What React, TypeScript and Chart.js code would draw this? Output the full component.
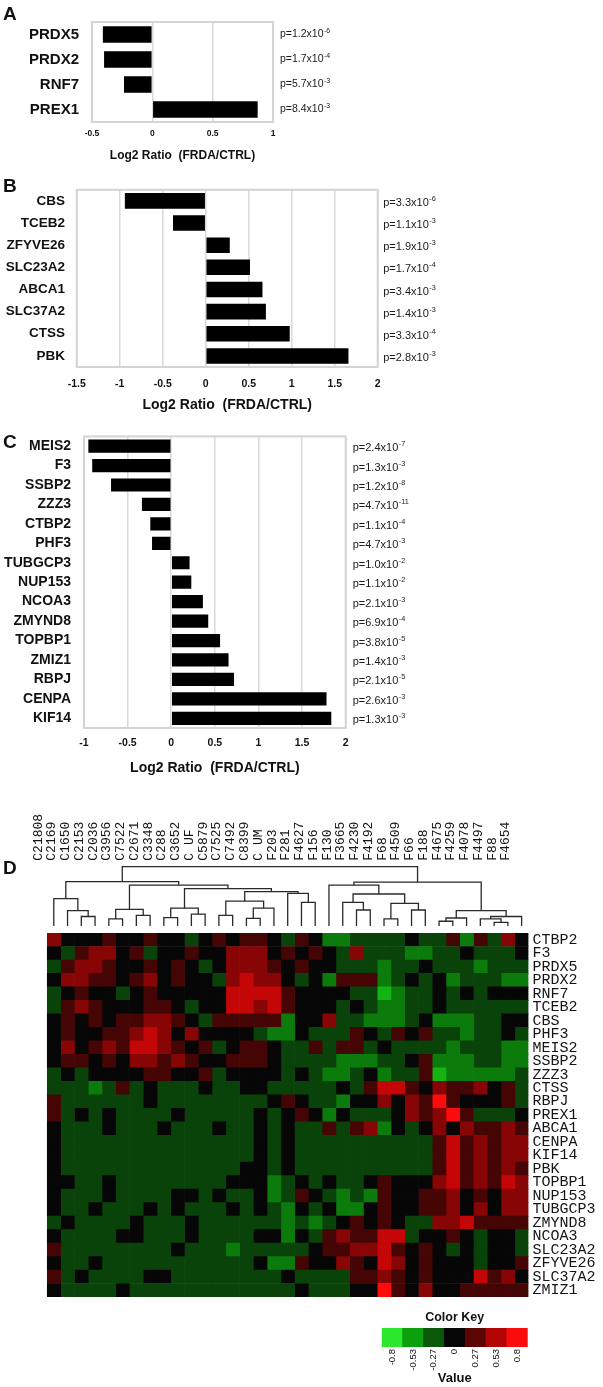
import React, { useEffect, useRef } from "react";
import { Chart, registerables } from "chart.js";
Chart.register(...registerables);

const FONT = '"Liberation Sans", Arial, Helvetica, sans-serif';
const MONO = '"Liberation Mono", "DejaVu Sans Mono", monospace';
Chart.defaults.font.family = FONT;

// ---------- Panel A ----------
const genesA = ["PRDX5", "PRDX2", "RNF7", "PREX1"];
const valuesA = [-0.41, -0.4, -0.235, 0.873];
const pMantA = [1.2, 1.7, 5.7, 8.4];
const pExpA = [-6, -4, -3, -3];

// ---------- Panel B ----------
const genesB = ["CBS", "TCEB2", "ZFYVE26", "SLC23A2", "ABCA1", "SLC37A2", "CTSS", "PBK"];
const valuesB = [-0.94, -0.38, 0.28, 0.515, 0.66, 0.7, 0.977, 1.66];
const pMantB = [3.3, 1.1, 1.9, 1.7, 3.4, 1.4, 3.3, 2.8];
const pExpB = [-6, -3, -3, -4, -3, -3, -4, -3];

// ---------- Panel C ----------
const genesC = ["MEIS2", "F3", "SSBP2", "ZZZ3", "CTBP2", "PHF3", "TUBGCP3", "NUP153", "NCOA3", "ZMYND8", "TOPBP1", "ZMIZ1", "RBPJ", "CENPA", "KIF14"];
const valuesC = [-0.95, -0.906, -0.69, -0.336, -0.24, -0.22, 0.21, 0.23, 0.363, 0.424, 0.56, 0.657, 0.72, 1.78, 1.835];
const pMantC = [2.4, 1.3, 1.2, 4.7, 1.1, 4.7, 1.0, 1.1, 2.1, 6.9, 3.8, 1.4, 2.1, 2.6, 1.3];
const pExpC = [-7, -3, -8, -11, -4, -3, -2, -2, -3, -4, -5, -3, -5, -3, -3];

// ---------- Panel D ----------
const sampleNames = ["C21808", "C2169", "C1650", "C2153", "C2036", "C3956", "C7522", "C2671", "C3348", "C288", "C3652", "C UF", "C5879", "C7525", "C7492", "C8399", "C UM", "F203", "F281", "F4627", "F156", "F130", "F3665", "F4230", "F4192", "F68", "F4509", "F66", "F188", "F4675", "F4259", "F4078", "F4497", "F88", "F4654"];
const heatGenes = ["CTBP2", "F3", "PRDX5", "PRDX2", "RNF7", "TCEB2", "CBS", "PHF3", "MEIS2", "SSBP2", "ZZZ3", "CTSS", "RBPJ", "PREX1", "ABCA1", "CENPA", "KIF14", "PBK", "TOPBP1", "NUP153", "TUBGCP3", "ZMYND8", "NCOA3", "SLC23A2", "ZFYVE26", "SLC37A2", "ZMIZ1"];
// each digit is a colour-key level: 0 = -0.8 ... 4 = 0 ... 8 = +0.8 (step 0.2)
const heatRows = [
  "644454454434545" + "54354223333433525364",
  "435664534454466" + "64545436333223343334",
  "356654454543466" + "65454433323343332333",
  "466554564544367" + "66434255523434233322",
  "345443454444477" + "77544443312334343444",
  "356544455434477" + "67544434322334333333",
  "454545566543555" + "55244633222342223344",
  "454455676464444" + "32243335435453323343",
  "464565776545345" + "54335355343333233322",
  "455454665654455" + "54333322233452223322",
  "343444455445344" + "44343223423351222223",
  "333235343334334" + "43333343577546556453",
  "533333343333333" + "34543324464658544453",
  "534343333433333" + "43454243334656853334",
  "433343334333433" + "43433535624346465565",
  "433333333333333" + "43433333333335756566",
  "433333333333333" + "43433333333335756566",
  "433333333333334" + "43433333333335756565",
  "443343333333344" + "42343433454446756576",
  "433343333443433" + "42354323254455645466",
  "433433343433343" + "43243422454455646466",
  "343333433343333" + "33232345454336675555",
  "433334433343333" + "44243565577344543443",
  "533333333433323" + "33334556675454343443",
  "433433333333333" + "42254465476454443445",
  "534333344333333" + "33433335565454447564",
  "433334333333333" + "33343334485464455555",
];
// dendrogram merges: [nodeA, nodeB, height]; leaves 0..34, merge k creates node 35+k
const merges: [number, number, number][] = [
  [2, 3, 1.6], [1, 35, 2.6], [0, 36, 4.6],
  [4, 5, 1.2], [6, 7, 1.8], [38, 39, 2.8],
  [8, 9, 1.4], [10, 11, 2.0], [41, 42, 3.0],
  [12, 13, 1.8], [14, 15, 1.3], [45, 16, 3.0], [44, 46, 4.2],
  [18, 19, 4.0], [17, 48, 5.5], [47, 49, 5.8],
  [43, 50, 6.3], [40, 51, 6.9], [37, 52, 7.5],
  [22, 23, 2.7], [21, 54, 4.0], [24, 25, 1.2], [26, 27, 2.7], [56, 57, 3.8], [55, 58, 5.4], [20, 59, 6.9],
  [28, 29, 0.8], [61, 30, 1.35], [32, 33, 0.6], [31, 63, 1.2], [64, 34, 1.6], [62, 65, 2.6],
  [60, 66, 7.4], [53, 67, 10],
];
const keyValues = [-0.8, -0.53, -0.27, 0, 0.27, 0.53, 0.8];
const keyLabels = ["-0.8", "-0.53", "-0.27", "0", "0.27", "0.53", "0.8"];
const keyRGB = [[44, 232, 44], [12, 160, 12], [10, 88, 10], [6, 6, 6], [92, 5, 5], [178, 4, 4], [250, 12, 12]];

function colorFor(v: number) {
  const c = Math.max(keyValues[0], Math.min(keyValues[6], v));
  let k = 0;
  while (k < 5 && c > keyValues[k + 1]) k++;
  const t = (c - keyValues[k]) / (keyValues[k + 1] - keyValues[k]);
  const a = keyRGB[k], b = keyRGB[k + 1];
  const m = (i: number) => Math.round(a[i] + (b[i] - a[i]) * t);
  return `rgb(${m(0)},${m(1)},${m(2)})`;
}

const boxPlugin = {
  id: "box",
  beforeDatasetsDraw(chart: any) {
    const { ctx, chartArea: a } = chart;
    ctx.save();
    ctx.strokeStyle = "#d4d4d4";
    ctx.lineWidth = 2;
    ctx.strokeRect(a.left, a.top, a.right - a.left, a.bottom - a.top);
    ctx.restore();
  },
};

function makePPlugin(mant: number[], exps: number[], dx: number, dy: number, size: number) {
  return {
    id: "pvals",
    afterDatasetsDraw(chart: any) {
      const { ctx, chartArea } = chart;
      const ys = chart.scales.y;
      ctx.save();
      ctx.fillStyle = "#1a1a1a";
      ctx.textBaseline = "middle";
      ctx.textAlign = "left";
      mant.forEach((m, i) => {
        const y = ys.getPixelForValue(i) + dy;
        const x = chartArea.right + dx;
        const base = `p=${m.toFixed(1)}x10`;
        ctx.font = `${size}px ${FONT}`;
        ctx.fillText(base, x, y);
        const w = ctx.measureText(base).width;
        ctx.font = `${size * 0.66}px ${FONT}`;
        ctx.fillText(String(exps[i]), x + w + 0.5, y - size * 0.36);
      });
      ctx.restore();
    },
  };
}

function barConfig(genes: string[], values: number[], pm: number[], pe: number[], p: any) {
  return {
    type: "bar",
    data: {
      labels: genes,
      datasets: [{ data: values, backgroundColor: "#000", borderWidth: 0, barPercentage: p.bar, categoryPercentage: 1 }],
    },
    options: {
      indexAxis: "y",
      responsive: false,
      animation: false,
      devicePixelRatio: 1,
      events: [],
      layout: { padding: { left: 0, right: p.right, top: p.top, bottom: 0 } },
      plugins: { legend: { display: false }, tooltip: { enabled: false } },
      scales: {
        y: {
          type: "category",
          grid: { display: false, drawTicks: false },
          border: { display: false },
          afterFit: (s: any) => { s.width = p.yw; },
          ticks: { autoSkip: false, padding: p.ypad, color: "#111", font: { size: p.yfs, weight: "bold" } },
        },
        x: {
          type: "linear",
          min: p.min,
          max: p.max,
          grid: { color: "#d9d9d9", lineWidth: 1.5, drawTicks: false },
          border: { display: false },
          afterFit: (s: any) => { s.height = p.xh; },
          ticks: { stepSize: 0.5, padding: p.xpad, color: "#111", font: { size: p.xfs, weight: "bold" }, callback: (v: any) => String(v) },
          title: { display: true, text: "Log2 Ratio  (FRDA/CTRL)", color: "#111", font: { size: p.tfs, weight: "bold" }, padding: { top: 0, bottom: p.tpb } },
        },
      },
    },
    plugins: [boxPlugin, makePPlugin(pm, pe, p.pdx, p.pdy, p.pfs)],
  };
}

function dendroConfig() {
  const xs: number[] = sampleNames.map((_, i) => i);
  const hs: number[] = sampleNames.map(() => 0);
  const datasets: any[] = [];
  merges.forEach(([a, b, h]) => {
    datasets.push({
      data: [{ x: xs[a], y: hs[a] }, { x: xs[a], y: h }, { x: xs[b], y: h }, { x: xs[b], y: hs[b] }],
      showLine: true,
      borderColor: "#2a2a2a",
      borderWidth: 1.3,
      pointRadius: 0,
      clip: false,
    });
    xs.push((xs[a] + xs[b]) / 2);
    hs.push(h);
  });
  return {
    type: "scatter",
    data: { datasets },
    options: {
      responsive: false,
      animation: false,
      devicePixelRatio: 1,
      events: [],
      layout: { padding: { left: 46.9, right: 74.5, top: 0, bottom: 4 } },
      plugins: { legend: { display: false }, tooltip: { enabled: false } },
      scales: {
        x: {
          type: "linear",
          position: "top",
          min: -0.5,
          max: sampleNames.length - 0.5,
          grid: { display: false, drawTicks: false },
          border: { display: false },
          afterBuildTicks: (s: any) => { s.ticks = sampleNames.map((_, i) => ({ value: i })); },
          afterFit: (s: any) => { s.height = 76.7; },
          ticks: {
            autoSkip: false,
            minRotation: 90,
            maxRotation: 90,
            padding: 6,
            color: "#151515",
            font: { size: 13, family: MONO },
            callback: (v: any) => sampleNames[Math.round(Number(v))],
          },
        },
        y: { type: "linear", min: 0, max: 10, display: false },
      },
    },
  };
}

function heatConfig() {
  const datasets = sampleNames.map((name, j) => ({
    label: name,
    data: heatGenes.map(() => 1),
    backgroundColor: heatRows.map((row) => colorFor((Number(row[j]) - 4) * 0.2)),
    borderWidth: 0,
    barPercentage: 1,
    categoryPercentage: 1,
  }));
  return {
    type: "bar",
    data: { labels: heatGenes, datasets },
    options: {
      indexAxis: "y",
      responsive: false,
      animation: false,
      devicePixelRatio: 1,
      events: [],
      layout: { padding: { left: 46.9, right: 0, top: 6, bottom: 6 } },
      plugins: { legend: { display: false }, tooltip: { enabled: false } },
      scales: {
        x: { type: "linear", stacked: true, min: 0, max: sampleNames.length, display: false },
        y: {
          type: "category",
          stacked: true,
          position: "right",
          grid: { display: false, drawTicks: false },
          border: { display: false },
          afterFit: (s: any) => { s.width = 74.5; },
          ticks: { autoSkip: false, padding: 4, color: "#151515", font: { size: 15, family: MONO } },
        },
      },
    },
  };
}

function keyConfig() {
  return {
    type: "bar",
    data: {
      labels: keyLabels,
      datasets: [{ data: keyValues.map(() => 1), backgroundColor: keyRGB.map((c) => `rgb(${c[0]},${c[1]},${c[2]})`), borderWidth: 0, barPercentage: 1, categoryPercentage: 1 }],
    },
    options: {
      responsive: false,
      animation: false,
      devicePixelRatio: 1,
      events: [],
      layout: { padding: { left: 381.7, right: 75.3, top: 0, bottom: 0 } },
      plugins: {
        legend: { display: false },
        tooltip: { enabled: false },
        title: { display: true, fullSize: false, text: "Color Key", color: "#111", font: { size: 12.5, weight: "bold" }, padding: { top: 5, bottom: 3 } },
      },
      scales: {
        x: {
          type: "category",
          grid: { display: false, drawTicks: false },
          border: { display: false },
          afterFit: (s: any) => { s.height = 40; },
          ticks: { autoSkip: false, minRotation: 90, maxRotation: 90, padding: 2, color: "#111", font: { size: 9.5 } },
          title: { display: true, text: "Value", color: "#111", font: { size: 13, weight: "bold" }, padding: { top: 0, bottom: 1 } },
        },
        y: { type: "linear", min: 0, max: 1, display: false },
      },
    },
  };
}

function ChartCanvas({ top, height, make }: { top: number; height: number; make: () => any }) {
  const ref = useRef<HTMLCanvasElement>(null);
  useEffect(() => {
    const chart = new Chart(ref.current as HTMLCanvasElement, make());
    return () => chart.destroy();
  }, []);
  return <canvas ref={ref} width={603} height={height} style={{ position: "absolute", left: 0, top, width: 603, height }} />;
}

const letterStyle = (top: number): React.CSSProperties => ({
  position: "absolute", left: 3, top, fontFamily: FONT, fontWeight: "bold", fontSize: 19, lineHeight: "19px", color: "#111",
});

export default function App() {
  useEffect(() => {
    document.body.style.margin = "0";
    document.body.style.background = "#fff";
  }, []);
  return (
    <div style={{ position: "relative", width: 603, height: 1387, background: "#fff", overflow: "hidden" }}>
      <ChartCanvas top={0} height={170} make={() => barConfig(genesA, valuesA, pMantA, pExpA, { right: 330, top: 6, yw: 92, ypad: 13, yfs: 15, min: -0.5, max: 1, xh: 48, xpad: 7, xfs: 8.5, tfs: 12, tpb: 7, bar: 0.66, pdx: 7, pdy: 0, pfs: 10.5 })} />
      <ChartCanvas top={170} height={245} make={() => barConfig(genesB, valuesB, pMantB, pExpB, { right: 225.3, top: 10, yw: 76.7, ypad: 11.7, yfs: 13.5, min: -1.5, max: 2, xh: 48, xpad: 10.5, xfs: 10.5, tfs: 14, tpb: 1.6, bar: 0.7, pdx: 5.5, pdy: 2, pfs: 11 })} />
      <ChartCanvas top={415} height={365} make={() => barConfig(genesC, valuesC, pMantC, pExpC, { right: 257.3, top: 21, yw: 84, ypad: 13, yfs: 14, min: -1, max: 2, xh: 52, xpad: 8.7, xfs: 10.5, tfs: 14, tpb: 3.7, bar: 0.68, pdx: 7, pdy: 2, pfs: 11 })} />
      <ChartCanvas top={790} height={140} make={dendroConfig} />
      <ChartCanvas top={920} height={390} make={heatConfig} />
      <ChartCanvas top={1305} height={82} make={keyConfig} />
      <div style={letterStyle(4)}>A</div>
      <div style={letterStyle(176)}>B</div>
      <div style={letterStyle(432)}>C</div>
      <div style={letterStyle(858)}>D</div>
    </div>
  );
}
